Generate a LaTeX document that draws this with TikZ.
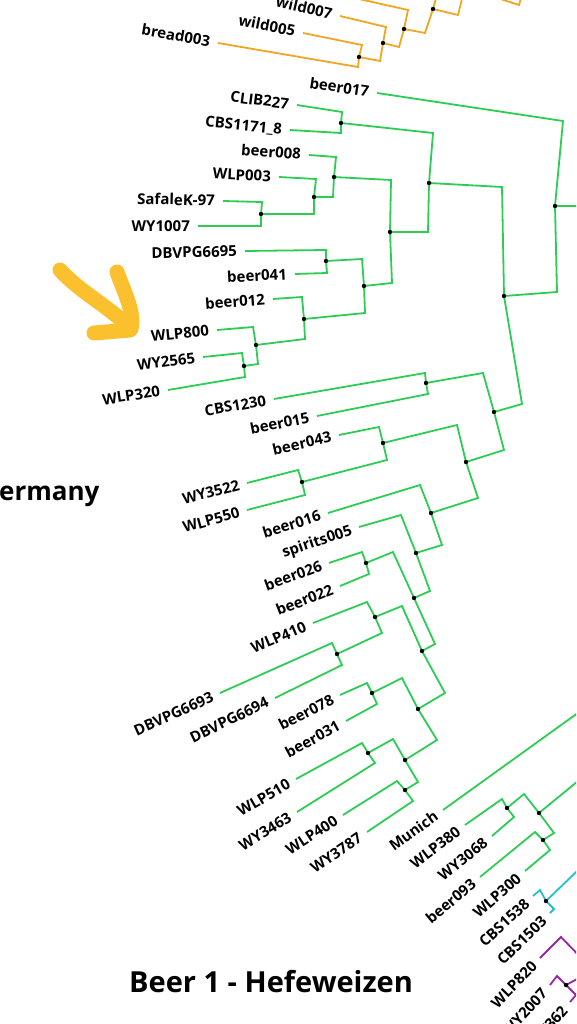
\documentclass[tikz,border=0pt]{standalone}
\usepackage{fontspec}
\setmainfont{Open Sans}
\usepackage{tikz}
\usetikzlibrary{positioning}
\usepackage{xcolor}
\definecolor{treegreen}{RGB}{45,205,85}
\definecolor{treeorange}{RGB}{240,165,35}
\definecolor{treecyan}{RGB}{40,190,210}
\definecolor{treepurple}{RGB}{150,40,160}
\definecolor{marker}{RGB}{251,192,45}

\tikzset{
  gbr/.style={draw=treegreen,line width=1.8pt},
  obr/.style={draw=treeorange,line width=1.8pt},
  cbr/.style={draw=treecyan,line width=1.8pt},
  pbr/.style={draw=treepurple,line width=1.8pt},
  lbl/.style={anchor=east,inner xsep=8pt,inner ysep=0pt,text height=10.5pt,text depth=0pt,
    font=\bfseries\fontsize{15}{15}\selectfont},
  big/.style={font=\bfseries\fontsize{29}{29}\selectfont,anchor=base west,inner sep=0pt}
}

\begin{document}
\begin{tikzpicture}[x=1pt,y=-1pt]
    \useasboundingbox (0,0) rectangle (576,1024);
    \clip (0,0) rectangle (576,1024);
    % inner nodes of the tree
    \foreach \nm/\x/\y in {o1/359/57, o2/383/43, o3/404/29, o4/433/9,
                           root/555/206, gB/504/296, gA/429/183, gcc/341/123,
                           gx/390/232, gb8/334/177, gw3/314/197, gsk/261/214,
                           gy/364/286, gdb/326/261, gb12/304/319, gw8/256/345,
                           gw8a/244/366, gC/494/412, gcb/426/383, gD/466/462,
                           g43/383/443, gwy/302/482, gE/431/513, gF/416/553,
                           gG/414/598, g26/366/563, gH/422/651, g410/375/617,
                           gdbv/337/654, gI/418/709, g78/372/693, gJ/405/760,
                           g510/368/753, g400/405/790, gK/539/813, g380/507/808,
                           g93/543/840, c1/546/901, p1/566/985}
      \coordinate (\nm) at (\x,\y);
    % ends that run off the page
    \coordinate (ow1) at (350,-3);
    \coordinate (ow2) at (437,-5);
    \coordinate (ow3) at (463,-5);
    \coordinate (ow4) at (494,-3);
    \coordinate (ow5) at (522,-5);
    \coordinate (root-out) at (600,206);
    \coordinate (gK-out) at (600,763);
    \coordinate (munich-out) at (600,697);
    \coordinate (c1-out) at (600,849);
    \coordinate (p820-out) at (590,967);
    \coordinate (p1-out) at (590,972);

    % orange clade
    \draw[obr] (o1) -- (380,61) -- (o2);
    \draw[obr] (o2) -- (399,47) -- (o3);
    \draw[obr] (o3) -- (425,33) -- (o4);
    \draw[obr] (ow1) -- (408,10) -- (o3);
    \draw[obr] (o4) -- (ow2);
    \draw[obr] (o4) -- (458,15) -- (ow3);
    \draw[obr] (ow4) -- (519,5) -- (ow5);
    \foreach \nm/\txt/\tx/\ty/\cx/\cy/\rot/\up in {
        wild007/wild007/340/16/386/27/-12.9/o2,
        wild005/wild005/303/33/362/45/-11.4/o1,
        bread003/bread003/218/43/358/67/-10/o1} {
      \coordinate (t-\nm) at (\tx,\ty);
      \draw[obr] (t-\nm) -- (\cx,\cy) -- (\up);
      \node[lbl,rotate=\rot] (l-\nm) at (t-\nm) {\txt};
    }

    % green clade
    \draw[gbr] (root) -- (root-out);
    \draw[gbr] (gK) -- (gK-out);
    \foreach \a/\cx/\cy/\b in {gcc/433/133/gA, gsk/314/214/gw3, gw3/333/197/gb8,
                               gb8/391/180/gx, gdb/362/259/gy, gw8a/258/364/gw8,
                               gw8/305/339/gb12, gb12/365/313/gy, gy/392/283/gx,
                               gx/428/232/gA, gA/502/187/gB, gC/522/404/gB,
                               gB/557/292/root, gcb/483/373/gC, gD/504/450/gC,
                               g43/457/425/gD, gwy/387/460/g43, gE/478/498/gD,
                               gF/442/545/gE, gG/430/591/gF, g26/393/552/gG,
                               gH/435/644/gG, g410/402/606/gH, gdbv/382/633/g410,
                               gI/445/693/gH, g78/402/678/gI, gJ/437/740/gI,
                               g510/393/739/gJ, g400/418/782/gJ, g380/524/794/gK,
                               g93/554/833/gK}
      \draw[gbr] (\a) -- (\cx,\cy) -- (\b);
    \foreach \nm/\txt/\tx/\ty/\cx/\cy/\rot/\up in {
        beer017/beer017/377/93/563/121/-8.6/root,
        clib227/CLIB227/297/105/342/112/-7.2/gcc,
        cbs1171/CBS1171\_8/290/130/341/133/-5.7/gcc,
        beer008/beer008/309/155/336/157/-4.3/gb8,
        wlp003/WLP003/279/177/316/179/-2.9/gw3,
        safk97/SafaleK-97/223/201/262/202/-1.4/gsk,
        wy1007/WY1007/198/226/261/226/0/gsk,
        dbv6695/DBVPG6695/245/251/326/250/1.4/gdb,
        beer041/beer041/295/274/327/273/2.9/gdb,
        beer012/beer012/273/299/302/297/4.3/gb12,
        wlp800/WLP800/217/330/253/327/5.7/gw8,
        wy2565/WY2565/203/357/242/353/7.2/gw8a,
        wlp320/WLP320/168/390/245/377/8.6/gw8a,
        cbs1230/CBS1230/274/399/425/373/10/gcb,
        beer015/beer015/317/416/428/394/11.4/gcb,
        beer043/beer043/339/435/379/427/12.9/g43,
        wy3522/WY3522/247/483/298/470/14.3/gwy,
        wlp550/WLP550/247/510/305/495/15.7/gwy,
        beer016/beer016/328/513/420/485/17.2/gE,
        spir005/spirits005/359/527/401/515/18.6/gF,
        beer026/beer026/329/563/362/552/20/g26,
        beer022/beer022/340/586/369/574/21.5/g26,
        wlp410/WLP410/313/623/367/602/22.9/g410,
        dbv6693/DBVPG6693/220/693/332/643/24.3/gdbv,
        dbv6694/DBVPG6694/275/698/342/665/25.7/gdbv,
        beer078/beer078/340/695/367/683/27.2/g78,
        beer031/beer031/346/721/377/704/28.6/g78,
        wlp510/WLP510/296/779/362/743/30/g510,
        wy3463/WY3463/297/812/375/763/31.5/g510,
        wlp400/WLP400/343/815/397/781/32.9/g400,
        wy3787/WY3787/367/832/413/801/34.3/g400,
        wlp380/WLP380/465/825/502/799/37.2/g380,
        wy3068/WY3068/492/836/514/817/38.6/g380,
        beer093/beer093/480/877/535/832/40/g93,
        wlp300/WLP300/525/871/550/850/41.5/g93} {
      \coordinate (t-\nm) at (\tx,\ty);
      \draw[gbr] (t-\nm) -- (\cx,\cy) -- (\up);
      \node[lbl,rotate=\rot] (l-\nm) at (t-\nm) {\txt};
    }
    \coordinate (t-munich) at (443,810);
    \draw[gbr] (t-munich) -- (munich-out);
    \node[lbl,rotate=35.8] (l-munich) at (t-munich) {Munich};

    % cyan and purple clades, cut by the page edge
    \draw[cbr] (c1) -- (c1-out);
    \foreach \nm/\txt/\tx/\ty/\cx/\cy/\rot/\up in {
        cbs1538/CBS1538/533/896/540/890/42.9/c1,
        cbs1503/CBS1503/550/913/554/909/44.3/c1} {
      \coordinate (t-\nm) at (\tx,\ty);
      \draw[cbr] (t-\nm) -- (\cx,\cy) -- (\up);
      \node[lbl,rotate=\rot] (l-\nm) at (t-\nm) {\txt};
    }
    \draw[pbr] (p1) -- (p1-out);
    \foreach \nm/\txt/\tx/\ty/\cx/\cy/\rot/\up in {
        wlp820/WLP820/540/958/561/937/45.8/p820-out,
        wy2007/WY2007/550/985/557/976/47.2/p1,
        wy362/WY362/570/1002/576/995/48.6/p1} {
      \coordinate (t-\nm) at (\tx,\ty);
      \draw[pbr] (t-\nm) -- (\cx,\cy) -- (\up);
      \node[lbl,rotate=\rot] (l-\nm) at (t-\nm) {\txt};
    }

    % dots on the inner nodes
    \foreach \nm in {o1,o2,o3,o4,root,gB,gA,gcc,gx,gb8,gw3,gsk,gy,gdb,gb12,gw8,
                     gw8a,gC,gcb,gD,g43,gwy,gE,gF,gG,g26,gH,g410,gdbv,gI,g78,
                     gJ,g510,g400,gK,g380,g93,c1,p1}
      \fill (\nm) circle (2.2pt);

    % group titles
    \node[big,font=\bfseries\fontsize{26}{26}\selectfont] (region) at (-1,500) {ermany};
    \node[big] (title) at (129,992) {Beer 1 - Hefeweizen};

    % hand-drawn marker
    \draw[marker,line width=15pt,line cap=round,line join=round]
      (60,270) .. controls (80,292) and (108,306) .. (129,327);
    \draw[marker,line width=15pt,line cap=round,line join=round]
      (117,272) .. controls (124,292) and (135,312) .. (131,329);
    \draw[marker,line width=15pt,line cap=round,line join=round]
      (130,330) -- (94,333);
\end{tikzpicture}
\end{document}
